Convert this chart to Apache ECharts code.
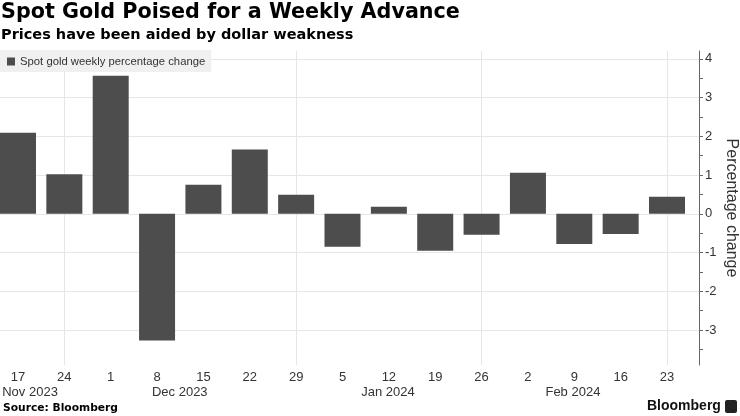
<!DOCTYPE html>
<html><head><meta charset="utf-8">
<script src="https://cdn.jsdelivr.net/npm/echarts@6/dist/echarts.min.js"></script>
<style>html,body{margin:0;padding:0;background:#fff}#c{width:740px;height:416px}</style>
</head><body><div id="c"></div>
<script>
// Week-ending dates (day of month) and weekly % change of spot gold
const weekLabels = ['17','24','1','8','15','22','29','5','12','19','26','2','9','16','23'];
const weeklyChange = [2.09, 1.02, 3.56, -3.27, 0.75, 1.66, 0.49, -0.85, 0.18, -0.95, -0.54, 1.06, -0.78, -0.52, 0.44];
const monthLabels = ['Nov 2023', 'Dec 2023', 'Jan 2024', 'Feb 2024'];
const monthLabelAt = [0.26, 3.49, 7.98, 11.97];   // axis value (week index) under which each month label sits
const monthEndWeeks = [1, 6, 10, 14];            // weeks with vertical gridlines
const yTicks = [-3, -2, -1, 0, 1, 2, 3, 4];
const yMinorTicks = [-3.5, -2.5, -1.5, -0.5, 0.5, 1.5, 2.5, 3.5];

const X_MIN = -0.388, X_MAX = 14.69, Y_MIN = -3.9, Y_MAX = 4.2;
const FONT = "'Liberation Sans', Arial, sans-serif";
const chart = echarts.init(document.getElementById('c'), null, {renderer: 'canvas'});
const option = {
  animation: false,
  backgroundColor: '#ffffff',
  title: {
    text: 'Spot Gold Poised for a Weekly Advance',
    subtext: 'Prices have been aided by dollar weakness',
    left: 1, top: 2, padding: 0, itemGap: 5,
    textStyle: {fontFamily: "'DejaVu Sans', sans-serif", fontWeight: 'bold', fontSize: 20.7, color: '#000'},
    subtextStyle: {fontFamily: "'DejaVu Sans', sans-serif", fontWeight: 'bold', fontSize: 14.5, color: '#000'}
  },
  legend: {
    left: 0, top: 50, padding: [6, 6, 5, 7],
    backgroundColor: '#f0f0f0',
    itemWidth: 8, itemHeight: 8, itemGap: 10, itemTextGap: 3,
    icon: 'rect',
    textStyle: {fontFamily: FONT, fontSize: 11.3, color: '#333'},
    data: ['Spot gold weekly percentage change']
  },
  grid: {left: 0, right: 41, top: 51, bottom: 51, containLabel: false, outerBoundsMode: 'none'},
  xAxis: [{
    type: 'value', min: X_MIN, max: X_MAX,
    axisLine: {show: false, onZero: false}, axisTick: {show: false}, splitLine: {show: false},
    axisLabel: {
      customValues: weekLabels.map((_, i) => i),
      formatter: v => weekLabels[Math.round(v)],
      fontFamily: FONT, fontSize: 13, color: '#333', margin: 6
    }
  }, {
    type: 'value', min: X_MIN, max: X_MAX, position: 'bottom', offset: 15,
    axisLine: {show: false, onZero: false}, axisTick: {show: false}, splitLine: {show: false},
    axisLabel: {
      customValues: monthLabelAt,
      formatter: v => { let k = 0, d = 1e9; monthLabelAt.forEach((p, i) => { if (Math.abs(p - v) < d) { d = Math.abs(p - v); k = i; } }); return monthLabels[k]; },
      fontFamily: FONT, fontSize: 13, color: '#333', margin: 6
    }
  }],
  yAxis: [{
    type: 'value', position: 'right', min: Y_MIN, max: Y_MAX,
    name: 'Percentage change', nameLocation: 'middle', nameRotate: -90, nameGap: 24, nameMoveOverlap: false,
    nameTextStyle: {fontFamily: FONT, fontSize: 16, color: '#333'},
    axisLine: {show: true, onZero: false, lineStyle: {color: '#666', width: 1}},
    axisTick: {show: true, customValues: yTicks.concat(yMinorTicks), length: 4, lineStyle: {color: '#666'}},
    axisLabel: {customValues: yTicks, fontFamily: FONT, fontSize: 13, color: '#333', margin: 6},
    splitLine: {show: false}
  }],
  series: [{
    name: 'gridlines', type: 'line', data: [], z: 1, silent: true,
    markLine: {
      z: 1, silent: true, symbol: 'none', label: {show: false}, animation: false,
      lineStyle: {color: '#e6e6e6', type: 'solid', width: 1},
      data: monthEndWeeks.map(i => ({xAxis: i})).concat(yTicks.map(v => ({yAxis: v})))
    }
  }, {
    name: 'Spot gold weekly percentage change', type: 'bar', z: 3,
    xAxisIndex: 0, yAxisIndex: 0, barWidth: 36,
    itemStyle: {color: '#4d4d4d'},
    data: weeklyChange.map((v, i) => [i, v])
  }],
  graphic: [{
    type: 'text', left: 3, top: 403,
    style: {text: 'Source: Bloomberg', fontFamily: "'DejaVu Sans', sans-serif", fontWeight: 'bold', fontSize: 10.7, fill: '#000'}
  }, {
    type: 'text', left: 647, top: 399,
    style: {text: 'Bloomberg', fontFamily: FONT, fontWeight: 'bold', fontSize: 14, fill: '#111'}
  }, {
    type: 'rect', left: 725, top: 400, shape: {width: 12, height: 13, r: 2}, style: {fill: '#222'}
  }]
};
chart.setOption(option);
</script></body></html>
